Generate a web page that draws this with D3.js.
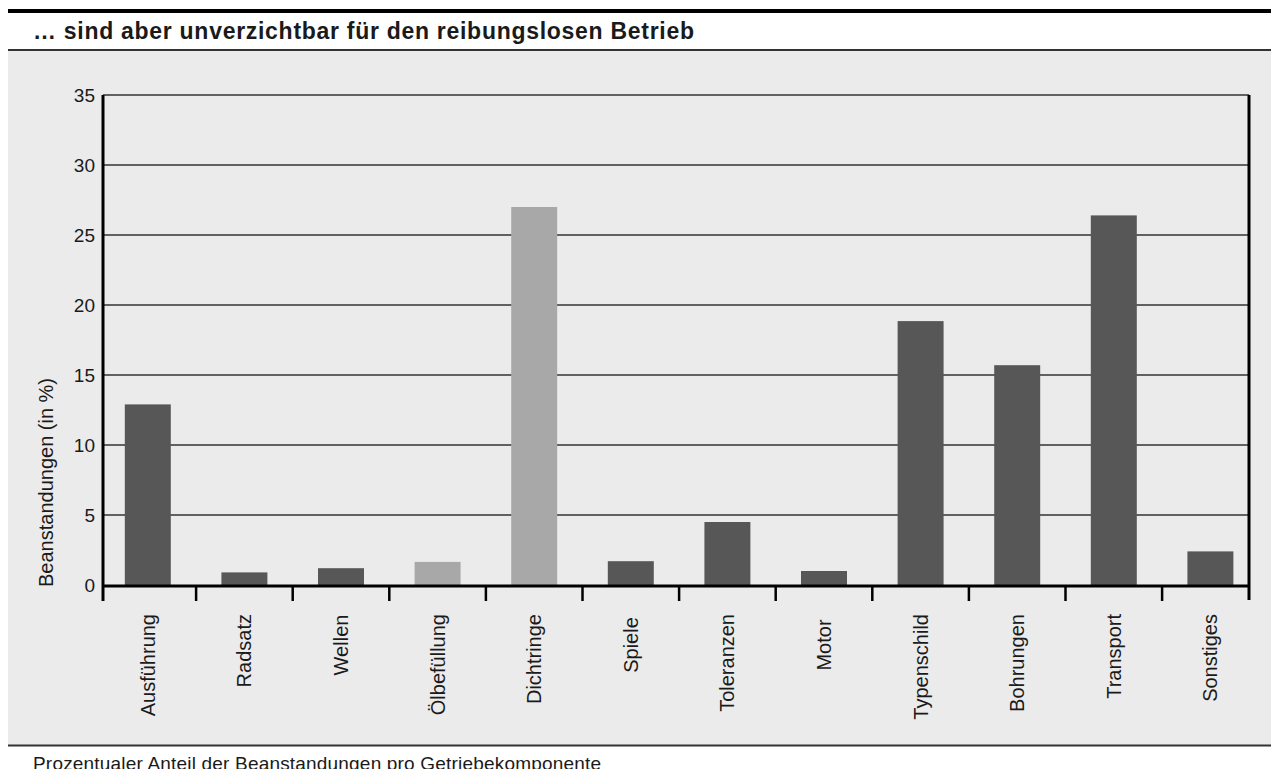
<!DOCTYPE html>
<html>
<head>
<meta charset="utf-8">
<script src="https://cdn.jsdelivr.net/npm/d3@7"></script>
<style>
  html, body { margin: 0; padding: 0; background: #ffffff; }
  svg { display: block; }
  text { font-family: "Liberation Sans", Arial, Helvetica, sans-serif; fill: #1a1a1a; }
</style>
</head>
<body>
<svg id="chart" width="1271" height="769"></svg>
<script>
// ---- data ----
const categories = ["Ausführung", "Radsatz", "Wellen", "Ölbefüllung", "Dichtringe", "Spiele",
                    "Toleranzen", "Motor", "Typenschild", "Bohrungen", "Transport", "Sonstiges"];
const values = [12.9, 0.9, 1.2, 1.65, 27.0, 1.7, 4.5, 1.0, 18.85, 15.7, 26.4, 2.4];
const highlighted = ["Ölbefüllung", "Dichtringe"];
const yTicks = [0, 5, 10, 15, 20, 25, 30, 35];
const titleText = "… sind aber unverzichtbar für den reibungslosen Betrieb";
const yAxisTitle = "Beanstandungen (in %)";
const captionText = "Prozentualer Anteil der Beanstandungen pro Getriebekomponente";

// ---- layout ----
const W = 1271, H = 769;
const svg = d3.select("#chart");
const axisLeft = 103, axisRight = 1249, yTop = 95, yZero = 585;

// frame
svg.append("rect").attr("x", 8).attr("y", 51).attr("width", W - 8).attr("height", 694).attr("fill", "#ebebeb");
svg.append("rect").attr("x", 8).attr("y", 9).attr("width", W - 8).attr("height", 4).attr("fill", "#000");
svg.append("rect").attr("x", 8).attr("y", 49).attr("width", W - 8).attr("height", 2).attr("fill", "#333");
svg.append("rect").attr("x", 8).attr("y", 744.5).attr("width", W - 8).attr("height", 2).attr("fill", "#333");

svg.append("text").attr("x", 33).attr("y", 39)
  .attr("font-size", 23).attr("font-weight", "bold").attr("fill", "#000")
  .attr("textLength", 661).attr("lengthAdjust", "spacing")
  .text(titleText);
svg.append("text").attr("x", 33).attr("y", 770)
  .attr("font-size", 19).attr("textLength", 568).attr("lengthAdjust", "spacing")
  .text(captionText);

// scales
const y = d3.scaleLinear().domain([0, 35]).range([yZero, yTop]);
const x = d3.scaleBand().domain(categories).range([99.5, 1258.7])
  .paddingInner(0.524).paddingOuter(0.262);
const step = x.step();

// gridlines
svg.append("g").selectAll("line").data(yTicks.filter(d => d > 0)).join("line")
  .attr("x1", axisLeft).attr("x2", axisRight)
  .attr("y1", d => y(d)).attr("y2", d => y(d))
  .attr("stroke", "#333").attr("stroke-width", 1.4);

// y tick labels
svg.append("g").selectAll("text").data(yTicks).join("text")
  .attr("x", 95).attr("y", d => y(d)).attr("dy", "0.35em")
  .attr("text-anchor", "end").attr("font-size", 19).text(d => d);

// bars
svg.append("g").selectAll("rect").data(categories).join("rect")
  .attr("x", d => x(d)).attr("width", x.bandwidth())
  .attr("y", (d, i) => y(values[i])).attr("height", (d, i) => yZero - y(values[i]))
  .attr("fill", d => highlighted.includes(d) ? "#a8a8a8" : "#575757");

// axes lines
const axisG = svg.append("g").attr("stroke", "#000");
axisG.append("line").attr("x1", axisLeft).attr("x2", axisLeft).attr("y1", yTop).attr("y2", 601).attr("stroke-width", 3);
axisG.append("line").attr("x1", axisRight).attr("x2", axisRight).attr("y1", yTop).attr("y2", 600).attr("stroke-width", 3);
axisG.append("line").attr("x1", axisLeft).attr("x2", axisRight).attr("y1", yZero + 1).attr("y2", yZero + 1).attr("stroke-width", 3);
// category boundary ticks
const boundaries = categories.slice(1).map(d => x(d) - x.paddingInner() * step / 2);
axisG.selectAll("line.tick").data(boundaries).join("line").attr("class", "tick")
  .attr("x1", d => d).attr("x2", d => d).attr("y1", yZero).attr("y2", 601).attr("stroke-width", 2.5);

// category labels
const lab = svg.append("g").selectAll("text").data(categories).join("text")
  .attr("font-size", 20).attr("text-anchor", "end")
  .text(d => d);
lab.each(function(d) {
  const len = this.getComputedTextLength();
  const yEnd = Math.max(614, 645 - len / 2);
  const cx = x(d) + x.bandwidth() / 2;
  d3.select(this).attr("transform", `translate(${cx + 7},${yEnd}) rotate(-90)`);
});

// y axis title
svg.append("text").attr("transform", "translate(53,587) rotate(-90)")
  .attr("font-size", 20).attr("text-anchor", "start").text(yAxisTitle);
</script>
</body>
</html>
